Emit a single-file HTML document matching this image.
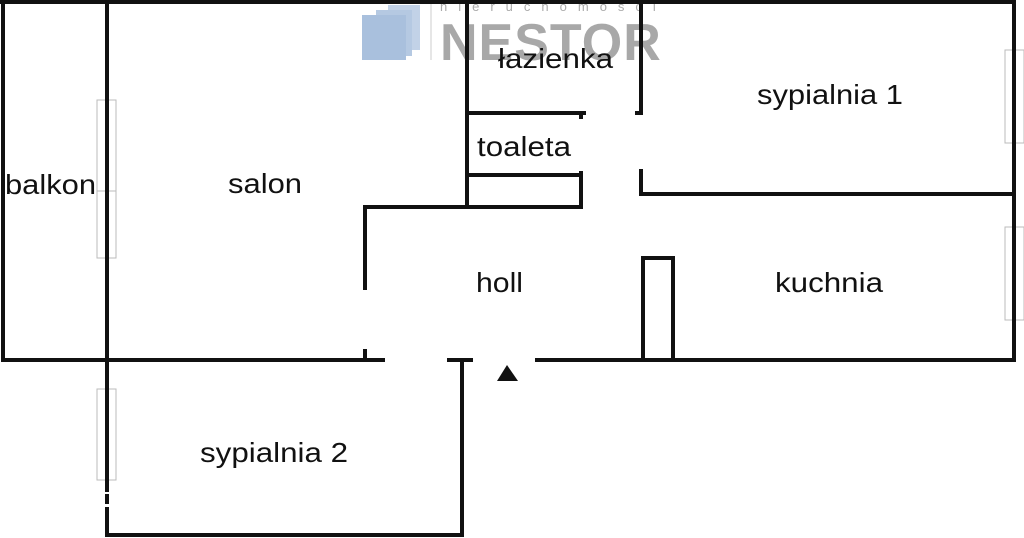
<!DOCTYPE html>
<html><head><style>
body{margin:0;background:#fff;}
svg{display:block}
text{font-family:"Liberation Sans",Arial,sans-serif;fill:#111;}
</style></head><body>
<svg width="1024" height="538" viewBox="0 0 1024 538">
<rect width="1024" height="538" fill="#fff"/>
<g fill="none" stroke="#bbb" stroke-width="1">
<rect x="97" y="100" width="19" height="158"/><line x1="97" y1="191" x2="116" y2="191"/>
<rect x="97" y="389" width="19" height="91"/>
<rect x="1005" y="50" width="19" height="93"/>
<rect x="1005" y="227" width="19" height="93"/>
</g>
<g opacity="0.85">
<rect x="388" y="5" width="32" height="45" fill="#b8cbe3"/>
<rect x="376" y="10" width="36" height="46" fill="#a9c0de"/>
<rect x="362" y="15" width="44" height="45" fill="#9bb6d8"/>
</g>
<line x1="431" y1="3" x2="431" y2="60" stroke="#ccc" stroke-width="1"/>
<text x="440" y="11" style="font-size:13px;fill:#aaa;letter-spacing:11px">nieruchomości</text>
<text x="440" y="60" style="font-size:52px;font-weight:bold;fill:#a8a8a8;letter-spacing:1px">NESTOR</text>
<g stroke="#111" stroke-width="4" fill="none" stroke-linecap="square">
<line x1="2" y1="2" x2="1014" y2="2"/>
<line x1="1014" y1="2" x2="1014" y2="360"/>
<line x1="3" y1="2" x2="3" y2="360"/>
<line x1="107" y1="2" x2="107" y2="490"/>
<line x1="107" y1="496" x2="107" y2="502"/>
<line x1="107" y1="509" x2="107" y2="535"/>
<line x1="107" y1="535" x2="462" y2="535"/>
<line x1="462" y1="362" x2="462" y2="535"/>
<line x1="3" y1="360" x2="383" y2="360"/>
<line x1="449" y1="360" x2="471" y2="360"/>
<line x1="537" y1="360" x2="1014" y2="360"/>
<line x1="365" y1="351" x2="365" y2="358"/>
<line x1="365" y1="207" x2="365" y2="288"/>
<line x1="365" y1="207" x2="581" y2="207"/>
<line x1="467" y1="4" x2="467" y2="207"/>
<line x1="467" y1="113" x2="584" y2="113"/>
<line x1="581" y1="113" x2="581" y2="117"/>
<line x1="467" y1="175" x2="579" y2="175"/>
<line x1="581" y1="173" x2="581" y2="207"/>
<line x1="641" y1="4" x2="641" y2="112"/>
<line x1="637" y1="113" x2="641" y2="113"/>
<line x1="641" y1="171" x2="641" y2="194"/>
<line x1="641" y1="194" x2="1012" y2="194"/>
<rect x="643" y="258" width="30" height="102"/>
</g>
<polygon points="507,365 497,381 518,381" fill="#111"/>
<g style="font-size:28px">
<text x="5" y="194" textLength="91" lengthAdjust="spacingAndGlyphs">balkon</text>
<text x="228" y="193" textLength="74" lengthAdjust="spacingAndGlyphs">salon</text>
<text x="498" y="68" textLength="115" lengthAdjust="spacingAndGlyphs">łazienka</text>
<text x="477" y="156" textLength="94" lengthAdjust="spacingAndGlyphs">toaleta</text>
<text x="757" y="104" textLength="146" lengthAdjust="spacingAndGlyphs">sypialnia 1</text>
<text x="476" y="292" textLength="47" lengthAdjust="spacingAndGlyphs">holl</text>
<text x="775" y="292" textLength="108" lengthAdjust="spacingAndGlyphs">kuchnia</text>
<text x="200" y="462" textLength="148" lengthAdjust="spacingAndGlyphs">sypialnia 2</text>
</g>
</svg>
</body></html>
